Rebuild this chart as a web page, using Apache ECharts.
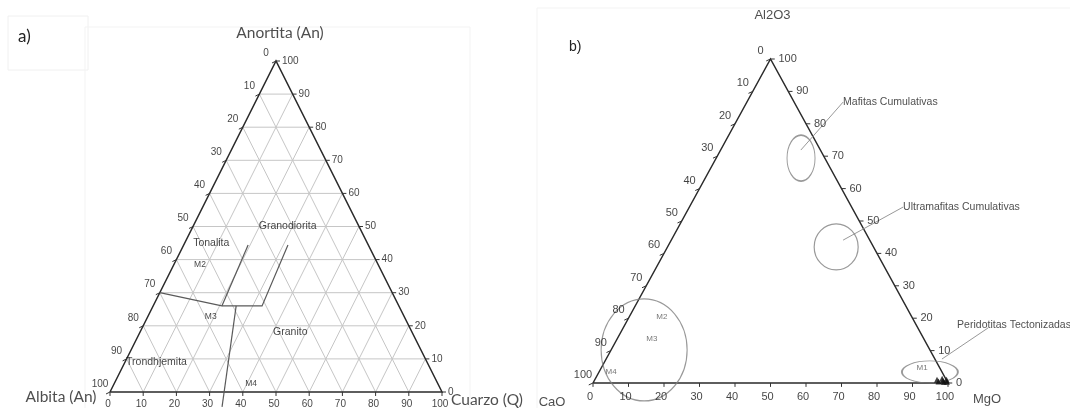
<!DOCTYPE html>
<html>
<head>
<meta charset="utf-8">
<script src="https://cdn.jsdelivr.net/npm/echarts@6/dist/echarts.min.js"></script>
<style>
  html, body { margin: 0; padding: 0; background: #fff; }
  #chart { width: 1070px; height: 408px; }
</style>
</head>
<body>
<div id="chart"></div>
<script>
// tick values along every side of both triangles
const tickValues = [0, 10, 20, 30, 40, 50, 60, 70, 80, 90, 100];

// a) points are [Cuarzo, Anortita], Albita is the rest
const fieldLines = [
  [[0, 30], [20.7, 26], [32.8, 26], [31.4, 44.4]],
  [[20.7, 26], [19.4, 44.4]],
  [[25, 26], [36, -4.5]],
];
const fieldNames = ['Tonalita', 'Granodiorita', 'Granito', 'Trondhjemita'];
const fieldAt = [[8, 45], [28.5, 50], [45.3, 18], [9.5, 9]];
const samplesA = ['M2', 'M3', 'M4'];
const samplesAAt = [[7.9, 38.4], [19, 22.7], [41.3, 2.4]];

// b) points are [MgO, Al2O3], CaO is the rest
const groupNames = ['Mafitas Cumulativas', 'Ultramafitas Cumulativas', 'Peridotitas Tectonizadas', ''];
const groupCentre = [[23.9, 69.4], [47.5, 42], [93.2, 3.4], [9.3, 10.2]];
const groupLeader = [
  [[22.6, 71.9], [27.1, 86.7]],
  [[48.4, 44.1], [60.2, 54.3]],
  [[94.6, 7.4], [102.8, 17]],
];
const samplesB = ['M1', 'M2', 'M3', 'M4'];
const samplesBAt = [[90.4, 4.6], [9.2, 20.4], [9.8, 13.6], [3.4, 3.4]];
const samplePoints = [[96.4, 1.0], [97.1, 0.5], [97.7, 1.3], [98.2, 0.7], [98.7, 0.3], [99.1, 1.0], [99.5, 0.4]];

// ternary -> cartesian (x 0..100, y = top component)
const xy = p => [p[0] + p[1] / 2, p[1]];

const axisFont = 'Liberation Sans, Arial, sans-serif';
const ellipseSize = [[28, 46], [44, 46], [56, 22], [86, 102]];

function lines(i, segs, color, width) {
  return {
    type: 'lines', coordinateSystem: 'cartesian2d', xAxisIndex: i, yAxisIndex: i,
    polyline: true, clip: false, silent: true, z: 2,
    lineStyle: { color: color, width: width, opacity: 1 },
    data: segs.map(s => ({ coords: s })),
  };
}

function texts(i, items, label) {
  return {
    type: 'scatter', xAxisIndex: i, yAxisIndex: i, symbolSize: 0, clip: false, silent: true, z: 5,
    label: Object.assign({ show: true, position: 'inside', formatter: '{b}', color: '#111',
      fontFamily: axisFont, fontSize: 10 }, label),
    data: items,
  };
}

// frame, grid, ticks and tick labels of one triangle
function triangle(i, grid, lab) {
  const s = [];
  s.push(lines(i, [[[0, 0], [100, 0], [0, 100], [0, 0]].map(xy)], '#2a2a2a', 1.5));
  if (grid) {
    const g = [];
    tickValues.filter(k => k > 0 && k < 100).forEach(k => {
      g.push([xy([0, k]), xy([100 - k, k])]);
      g.push([xy([k, 0]), xy([k, 100 - k])]);
      g.push([xy([100 - k, 0]), xy([0, 100 - k])]);
    });
    s.push(Object.assign(lines(i, g, '#c6c6c6', 1), { z: 1 }));
  }
  const t = [];
  tickValues.forEach(v => {
    const l = xy([0, 100 - v]), r = xy([100 - v, v]), b = xy([v, 0]);
    t.push([l, [l[0] - 1.2, l[1] - 0.6]]);
    t.push([r, [r[0] + 1.2, r[1]]]);
    t.push([b, [b[0], b[1] - 1.2]]);
  });
  s.push(lines(i, t, '#333', 1));
  s.push(texts(i, tickValues.map(v => ({ name: String(v), value: xy([0, 100 - v]) })),
    { offset: lab.left, fontSize: lab.size }));
  s.push(texts(i, tickValues.map(v => ({ name: String(v), value: xy([100 - v, v]) })),
    { offset: lab.right, align: 'left', fontSize: lab.size }));
  s.push(texts(i, tickValues.map(v => ({ name: String(v), value: xy([v, 0]) })),
    { offset: lab.bottom, fontSize: lab.size }));
  return s;
}

const series = [].concat(
  triangle(0, true, { left: [-10, -8], right: [6, 0], bottom: [-2, 12], size: 10 }),
  triangle(1, false, { left: [-10, -8], right: [8, 0], bottom: [-3, 14], size: 11 }),
  [
    lines(0, fieldLines.map(l => l.map(xy)), '#5a5a5a', 1.2),
    texts(0, fieldNames.map((n, j) => ({ name: n, value: xy(fieldAt[j]) })), { fontSize: 10.5 }),
    texts(0, samplesA.map((n, j) => ({ name: n, value: xy(samplesAAt[j]) })), { fontSize: 8.5 }),
    // corner titles, panel a
    texts(0, [
      { name: 'Anortita (An)', value: xy([0, 100]), label: { offset: [4, -28] } },
      { name: 'Albita (An)', value: xy([0, 0]), label: { offset: [-49, 5] } },
      { name: 'Cuarzo (Q)', value: xy([100, 0]), label: { offset: [45, 8] } },
    ], { fontFamily: 'Lato, sans-serif', fontSize: 15.5, color: '#222' }),

    // panel b: groups
    {
      type: 'scatter', xAxisIndex: 1, yAxisIndex: 1, symbol: 'circle', clip: false, silent: true,
      itemStyle: { color: 'rgba(0,0,0,0)', borderColor: '#808080', borderWidth: 1.2 },
      data: groupCentre.map((c, j) => ({ value: xy(c), symbolSize: ellipseSize[j] })),
    },
    lines(1, groupLeader.map(l => l.map(xy)), '#999', 1),
    texts(1, groupLeader.map((l, j) => ({ name: groupNames[j], value: xy(l[1]),
      label: j === 2 ? { offset: [-31, -3] } : {} })), { align: 'left', fontSize: 10.5, color: '#222' }),
    texts(1, samplesB.map((n, j) => ({ name: n, value: xy(samplesBAt[j]) })), { fontSize: 8, color: '#555' }),
    {
      type: 'scatter', xAxisIndex: 1, yAxisIndex: 1, symbol: 'triangle', symbolSize: 6,
      clip: false, silent: true, z: 4, itemStyle: { color: '#111' },
      data: samplePoints.map(xy),
    },
    texts(1, [
      { name: 'Al2O3', value: xy([0, 100]), label: { offset: [2, -44] } },
      { name: 'CaO', value: xy([0, 0]), label: { offset: [-41, 19] } },
      { name: 'MgO', value: xy([100, 0]), label: { offset: [39, 16] } },
    ], { fontSize: 13, color: '#222' }),
  ]
);

const axis = i => ({ type: 'value', gridIndex: i, min: 0, max: 100, show: false });

const option = {
  animation: false,
  backgroundColor: '#fff',
  grid: [
    { left: 110, top: 61, width: 332, height: 331 },
    { left: 593, top: 59, width: 355, height: 324 },
  ],
  xAxis: [axis(0), axis(1)],
  yAxis: [axis(0), axis(1)],
  graphic: [
    { type: 'rect', shape: { x: 8, y: 16, width: 80, height: 54 }, style: { fill: 'none', stroke: '#f0f0f0' } },
    { type: 'rect', shape: { x: 85, y: 27, width: 385, height: 390 }, style: { fill: 'none', stroke: '#f3f3f3' } },
    { type: 'rect', shape: { x: 537, y: 8, width: 540, height: 410 }, style: { fill: 'none', stroke: '#f3f3f3' } },
    { type: 'text', left: 18, top: 28, style: { text: 'a)', font: '17px Lato, sans-serif', fill: '#222' } },
    { type: 'text', left: 569, top: 40, style: { text: 'b)', font: '14px Liberation Sans, Arial, sans-serif', fill: '#222' } },
  ],
  series: series,
};

const chart = echarts.init(document.getElementById('chart'));
chart.setOption(option);
</script>
</body>
</html>
